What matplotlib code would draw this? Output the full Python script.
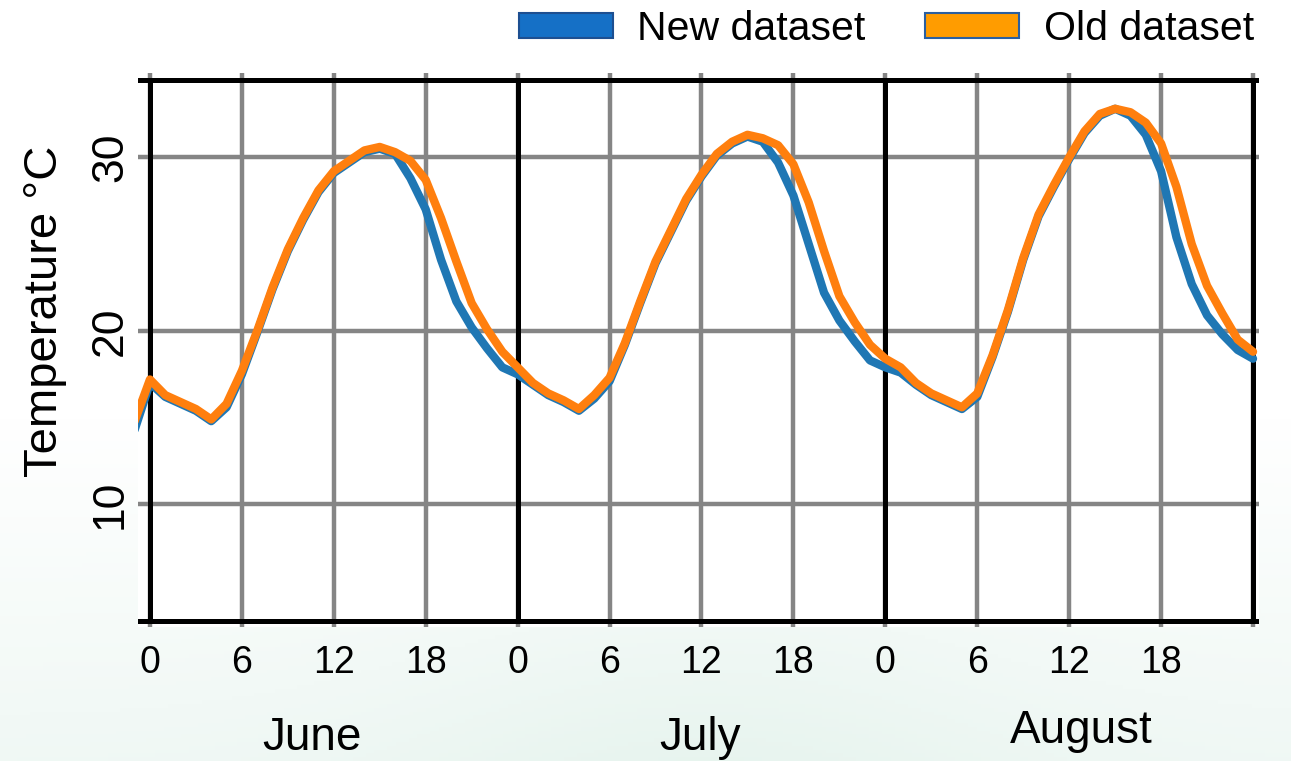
import numpy as np
import matplotlib.pyplot as plt
from matplotlib.patches import Patch

plt.rcParams['font.family'] = ['Liberation Sans', 'DejaVu Sans']

# Hourly mean temperature (degC), hours 0..23 of each month
months = ['June', 'July', 'August']
hours = np.arange(24)

june_old = [17.2, 16.3, 15.9, 15.5, 14.9, 15.8, 17.7, 20.0, 22.5, 24.7, 26.5, 28.1,
            29.2, 29.8, 30.4, 30.6, 30.3, 29.8, 28.7, 26.5, 24.0, 21.6, 20.1, 18.8]
june_new = [17.0, 16.2, 15.8, 15.4, 14.8, 15.6, 17.5, 19.9, 22.4, 24.6, 26.4, 28.0,
            29.1, 29.7, 30.3, 30.5, 30.2, 28.8, 27.0, 24.1, 21.7, 20.2, 19.0, 17.9]
july_old = [17.9, 17.0, 16.4, 16.0, 15.5, 16.3, 17.3, 19.3, 21.7, 24.0, 25.8, 27.6,
            29.0, 30.2, 30.9, 31.3, 31.1, 30.7, 29.6, 27.4, 24.6, 22.0, 20.5, 19.2]
july_new = [17.5, 16.9, 16.3, 15.9, 15.4, 16.1, 17.1, 19.2, 21.6, 23.9, 25.7, 27.5,
            28.9, 30.1, 30.8, 31.2, 30.9, 29.7, 27.8, 25.0, 22.2, 20.6, 19.4, 18.3]
aug_old = [18.4, 17.9, 17.0, 16.4, 16.0, 15.6, 16.4, 18.6, 21.2, 24.2, 26.7, 28.4,
           30.0, 31.5, 32.5, 32.8, 32.6, 32.0, 30.8, 28.3, 25.0, 22.6, 21.0, 19.5]
aug_new = [17.9, 17.6, 16.9, 16.3, 15.9, 15.5, 16.2, 18.5, 21.1, 24.1, 26.6, 28.3,
           29.9, 31.4, 32.4, 32.8, 32.4, 31.3, 29.2, 25.4, 22.7, 20.9, 19.8, 18.9]
# last hour of May and first hour of September (edges of the series)
may_end_old, may_end_new = 14.8, 14.3
sep_start_old, sep_start_new = 18.8, 18.4

# build one continuous series over the three months
x = np.concatenate([[-1], hours, hours + 24, hours + 48, [72]])
old = np.concatenate([[may_end_old], june_old, july_old, aug_old, [sep_start_old]])
new = np.concatenate([[may_end_new], june_new, july_new, aug_new, [sep_start_new]])

W, H = 1291, 761
fig = plt.figure(figsize=(W / 100, H / 100), dpi=100)

# faint slide background
bg = fig.add_axes([0, 0, 1, 1], zorder=-10)
yy = np.linspace(0, 1, 200)[:, None]
xx = np.linspace(0, 1, 300)[None, :]
t = np.clip((yy - 0.55) / 0.45, 0, 1) * (0.45 + 0.25 * np.exp(-((xx - 0.55) / 0.25) ** 2))
tint = np.array([0.87, 0.94, 0.91])
img = (1 - t[..., None]) * 1.0 + t[..., None] * tint
bg.imshow(img, aspect='auto', extent=[0, 1, 1, 0])
bg.axis('off')

ax = fig.add_axes([138 / W, 1 - 627 / H, (1259 - 138) / W, (627 - 73) / H])
ax.set_facecolor('white')

ax.plot(x, new, color='#1f77b4', lw=6, solid_capstyle='round', solid_joinstyle='round', zorder=4)
ax.plot(x, old, color='#ff7f0e', lw=6, solid_capstyle='round', solid_joinstyle='round', zorder=5)

ax.set_xlim(-0.78, 72.39)
ax.set_ylim(2.94, 34.86)

# grid
ax.set_xticks(np.arange(0, 72, 6))
ax.set_xticklabels([str(h % 24) for h in range(0, 72, 6)])
ax.set_yticks([10, 20, 30])
ax.grid(True, color='#858585', lw=3.2, zorder=1)
ax.axvline(72, color='#858585', lw=3.2, zorder=1)
for s in ax.spines.values():
    s.set_visible(False)

# black frame and month separators
for xb in [0, 24, 48, 72]:
    ax.axvline(xb, ymin=(3.27 - 2.94) / (34.86 - 2.94), ymax=(34.45 - 2.94) / (34.86 - 2.94),
               color='black', lw=3.6, zorder=3)
for yb in [3.27, 34.45]:
    ax.axhline(yb, color='black', lw=3.6, zorder=3)

ax.tick_params(axis='both', length=0)
ax.tick_params(axis='x', labelsize=27, pad=13)
ax.tick_params(axis='y', labelsize=32, pad=5)
for lab in ax.get_yticklabels():
    lab.set_rotation(90)
    lab.set_va('center')

fig.text(45 / W, 1 - 311 / H, 'Temperature °C', rotation=90, ha='center', va='center', fontsize=34)

# month labels under the hour ticks
month_x = [312, 700, 1081]
month_base = [750, 750, 743]
for name, mx, my in zip(months, month_x, month_base):
    fig.text(mx / W, 1 - my / H, name, ha='center', va='baseline', fontsize=33)

handles = [Patch(facecolor='#1570c6', edgecolor='#1d4f91', lw=1.5, label='New dataset'),
           Patch(facecolor='#ff9c00', edgecolor='#2a5fa0', lw=1.5, label='Old dataset')]
fig.legend(handles=handles, loc='upper right', bbox_to_anchor=(1254 / W, 1 - 10 / H),
           ncol=2, frameon=False, fontsize=29.5, borderpad=0, borderaxespad=0,
           handlelength=2.3, handleheight=0.57, handletextpad=0.6, columnspacing=1.45)

fig.savefig('out.png', dpi=100)
